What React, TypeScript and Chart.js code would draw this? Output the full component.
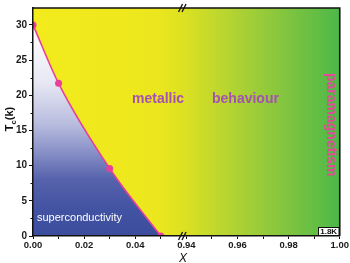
import React, { useEffect, useRef } from 'react';
import { Chart, registerables } from 'chart.js';

Chart.register(...registerables);

// ---- data ----
const dopingX = [0, 0.01, 0.03, 0.05];
const tcValues = [30, 21.7, 9.6, 0];

const xTickValues = [0, 0.01, 0.02, 0.03, 0.04, 0.05, 0.94, 0.95, 0.96, 0.97, 0.98, 0.99, 1.0];
const xTickLabels = ['0.00', '', '0.02', '', '0.04', '', '0.94', '', '0.96', '', '0.98', '', '1.00'];
const yTickValues = [0, 2.5, 5, 7.5, 10, 12.5, 15, 17.5, 20, 22.5, 25, 27.5, 30];
const yTickLabels = ['0', '', '5', '', '10', '', '15', '', '20', '', '25', '', '30'];

const regionLabels = ['metallic', 'behaviour', 'paramagnetism', 'superconductivity'];
const temperatureLabel = '1.8K';

// broken x axis: [0, 0.06] joined to [0.94, 1.00]
const BREAK_SHIFT = 0.88;
const BREAK_AT = 0.0585;
const toAxis = (x: number) => (x > 0.5 ? x - BREAK_SHIFT : x);

const FONT = '"Liberation Sans", Arial, sans-serif';

export default function App() {
  const ref = useRef<HTMLCanvasElement | null>(null);

  useEffect(() => {
    if (!ref.current) return;

    const decor = {
      id: 'decor',
      beforeDraw(chart: any) {
        const { ctx, chartArea: a } = chart;
        const g = ctx.createLinearGradient(a.left, 0, a.right, 0);
        g.addColorStop(0, '#f3eb1c');
        g.addColorStop(0.4, '#ece71d');
        g.addColorStop(0.49, '#dde122');
        g.addColorStop(0.65, '#b2d333');
        g.addColorStop(0.82, '#83c53f');
        g.addColorStop(1, '#4cb848');
        ctx.save();
        ctx.fillStyle = g;
        ctx.fillRect(a.left, a.top, a.right - a.left, a.bottom - a.top);
        ctx.restore();
      },
      afterDraw(chart: any) {
        const { ctx, chartArea: a, scales } = chart;
        ctx.save();
        // frame top/right
        ctx.strokeStyle = '#111';
        ctx.lineWidth = 1.6;
        ctx.beginPath();
        ctx.moveTo(a.left, a.top);
        ctx.lineTo(a.right, a.top);
        ctx.lineTo(a.right, a.bottom);
        ctx.stroke();

        // minor y ticks
        ctx.lineWidth = 1;
        ctx.strokeStyle = '#111';
        yTickValues.forEach((v, i) => {
          if (yTickLabels[i] !== '') return;
          const py = Math.round(scales.y.getPixelForValue(v)) + 0.5;
          ctx.beginPath();
          ctx.moveTo(a.left - 2.5, py);
          ctx.lineTo(a.left, py);
          ctx.stroke();
        });

        // axis break marks
        const bx = scales.x.getPixelForValue(BREAK_AT);
        ctx.lineWidth = 1.3;
        [a.top, a.bottom].forEach((yy: number) => {
          [-2, 1.5].forEach((off) => {
            ctx.beginPath();
            ctx.moveTo(bx + off - 2, yy + 4);
            ctx.lineTo(bx + off + 2, yy - 4);
            ctx.stroke();
          });
        });

        // region labels
        ctx.font = `bold 14px ${FONT}`;
        ctx.fillStyle = '#a550b3';
        ctx.textAlign = 'left';
        ctx.textBaseline = 'alphabetic';
        ctx.fillText(regionLabels[0], 132, 103);
        ctx.fillText(regionLabels[1], 212, 103);

        ctx.save();
        ctx.translate(326.5, 73);
        ctx.rotate(Math.PI / 2);
        ctx.fillStyle = '#e8469b';
        ctx.fillText(regionLabels[2], 0, 0);
        ctx.restore();

        ctx.font = `11px ${FONT}`;
        ctx.fillStyle = '#ffffff';
        ctx.fillText(regionLabels[3], 37, 221);

        // temperature box
        ctx.fillStyle = '#ffffff';
        ctx.fillRect(318, 227, 21, 8.5);
        ctx.strokeStyle = '#111';
        ctx.lineWidth = 1;
        ctx.strokeRect(318.5, 227.5, 20.5, 8);
        ctx.fillStyle = '#111';
        ctx.font = `bold 8px ${FONT}`;
        ctx.textAlign = 'center';
        ctx.textBaseline = 'middle';
        ctx.fillText(temperatureLabel, 328.7, 232);

        // x title
        ctx.font = `italic 12px ${FONT}`;
        ctx.textBaseline = 'alphabetic';
        ctx.fillText('X', 183, 262);

        // y title  T_c(k)
        ctx.save();
        ctx.translate(13, 119);
        ctx.rotate(-Math.PI / 2);
        ctx.textAlign = 'left';
        const big = `bold 11px ${FONT}`;
        const small = `bold 7.5px ${FONT}`;
        ctx.font = big;
        const wT = ctx.measureText('T').width;
        const wK = ctx.measureText('(k)').width;
        ctx.font = small;
        const wc = ctx.measureText('c').width;
        let sx = -(wT + wc + wK) / 2;
        ctx.font = big;
        ctx.fillText('T', sx, 0);
        sx += wT;
        ctx.font = small;
        ctx.fillText('c', sx, 2.5);
        sx += wc;
        ctx.font = big;
        ctx.fillText('(k)', sx, 0);
        ctx.restore();

        ctx.restore();
      },
    };

    const chart = new Chart(ref.current, {
      type: 'line',
      data: {
        datasets: [
          {
            data: dopingX.map((x, i) => ({ x: toAxis(x), y: tcValues[i] })),
            borderColor: '#e8409a',
            borderWidth: 1.6,
            pointRadius: 3.5,
            pointBackgroundColor: '#e8409a',
            pointBorderColor: '#e8409a',
            pointBorderWidth: 0,
            cubicInterpolationMode: 'monotone',
            fill: 'origin',
            backgroundColor: (c: any) => {
              const ch = c.chart;
              const s = ch.scales;
              if (!ch.chartArea || !s || !s.y) return 'rgba(60,76,158,0.9)';
              const y30 = s.y.getPixelForValue(30);
              const y0 = s.y.getPixelForValue(0);
              const g = ch.ctx.createLinearGradient(0, y30, 0, y0);
              g.addColorStop(0, '#ffffff');
              g.addColorStop(0.27, '#e8e8f4');
              g.addColorStop(0.47, '#b8bcde');
              g.addColorStop(0.6, '#8a91c8');
              g.addColorStop(0.73, '#5663ac');
              g.addColorStop(0.87, '#4353a3');
              g.addColorStop(1, '#3d4d9e');
              return g;
            },
          } as any,
        ],
      },
      options: {
        animation: false,
        responsive: false,
        maintainAspectRatio: false,
        layout: { padding: { top: 6, right: 10, left: 0, bottom: 0 } },
        plugins: {
          legend: { display: false },
          tooltip: { enabled: false },
        },
        scales: {
          x: {
            type: 'linear',
            min: 0,
            max: 0.12,
            afterBuildTicks: (axis: any) => {
              axis.ticks = xTickValues.map((v) => ({ value: toAxis(v) }));
            },
            afterFit: (scale: any) => {
              scale.height = 27;
            },
            ticks: {
              autoSkip: false,
              maxRotation: 0,
              padding: 1,
              color: '#1a1a1a',
              font: { family: FONT, size: 9.5, weight: 'bold' },
              callback: (_v: any, i: number) => xTickLabels[i],
            },
            grid: {
              drawOnChartArea: false,
              drawTicks: true,
              tickLength: 3,
              tickColor: '#111',
            },
            border: { display: true, color: '#111', width: 1.5, z: 1 },
          },
          y: {
            type: 'linear',
            min: 0,
            max: 32.4,
            afterBuildTicks: (axis: any) => {
              axis.ticks = yTickValues.map((v) => ({ value: v }));
            },
            afterFit: (scale: any) => {
              scale.width = 33;
            },
            ticks: {
              autoSkip: false,
              padding: 2,
              color: '#1a1a1a',
              font: { family: FONT, size: 10, weight: 'bold' },
              callback: (_v: any, i: number) => yTickLabels[i],
            },
            grid: {
              drawOnChartArea: false,
              drawTicks: true,
              tickLength: 4,
              tickColor: (c: any) =>
                c.tick && c.tick.value % 5 === 0 ? '#111' : 'rgba(0,0,0,0)',
            },
            border: { display: true, color: '#111', width: 1.5, z: 1 },
          },
        },
      } as any,
      plugins: [decor],
    });

    return () => chart.destroy();
  }, []);

  return (
    <canvas
      ref={ref}
      width={350}
      height={263}
      style={{ position: 'fixed', left: 0, top: 0, width: 350, height: 263 }}
    />
  );
}
